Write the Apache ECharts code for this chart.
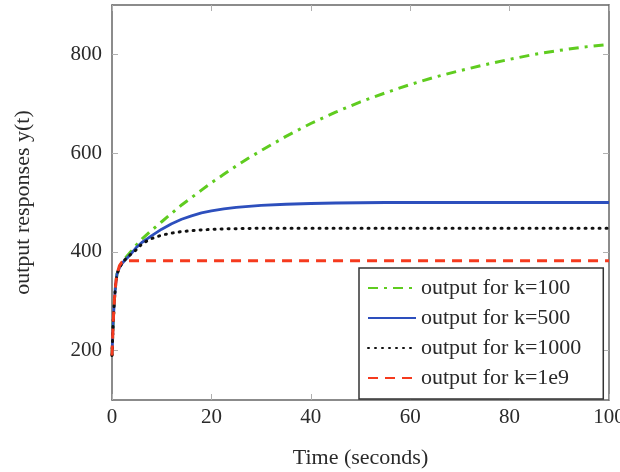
<!DOCTYPE html>
<html><head><meta charset="utf-8">
<script src="https://cdn.jsdelivr.net/npm/echarts@6/dist/echarts.min.js"></script>
<style>html,body{margin:0;padding:0;background:#fff}#c{width:620px;height:472px}</style>
</head><body><div id="c"></div>
<script>
const time  = [0,0.25,0.5,0.75,1,1.5,2,2.5,3,4,5,6,7,8,10,12,14,16,18,20,22.5,25,27.5,30,35,40,45,50,55,60,65,70,75,80,85,90,95,100];
const k100  = [190,260,305,335,355,370,378,385,391,403,415,426,435,444,461,478,495,510,525,540,557,574,590,605,634,660,683,704,722,739,754,767,779,790,800,808,815,820];
const k500  = [190,260,305,335,355,368,376,382,387,398,410,419,426,433,446,457,466,473,479,483,487,490,492,494,496.5,498,499,499.5,500,500,500,500,500,500,500,500,500,500];
const k1000 = [190,260,305,335,355,368,377,383,388,397,405,416,422,427,434,438,441,443,444.5,445.5,446.5,447,447.5,448,448,448,448,448,448,448,448,448,448,448,448,448,448,448];
const k1e9  = [190,260,305,335,355,372,379,381,382,382,382,382,382,382,382,382,382,382,382,382,382,382,382,382,382,382,382,382,382,382,382,382,382,382,382,382,382,382];
const xTicks = [0,20,40,60,80,100];
const yTicks = [200,400,600,800];
const names = ['output for k=100','output for k=500','output for k=1000','output for k=1e9'];

const pair = v => time.map((t,i)=>[t,v[i]]);
const font = 'Liberation Serif';
const axisLineStyle = {color:'#666', width:1.5};
const tickStyle = {color:'#b0b0b0', width:1};
const chart = echarts.init(document.getElementById('c'));
chart.setOption({
  animation:false,
  grid:{left:112,right:11,top:5,bottom:72, containLabel:false, outerBoundsMode:'none'},
  legend:{
    orient:'vertical', left:359, top:268,
    padding:[9,22,10,8], itemGap:8, itemWidth:48, itemHeight:22, itemTextGap:7,
    borderColor:'#333', borderWidth:1.5, backgroundColor:'#fff',
    itemStyle:{opacity:0},
    textStyle:{fontFamily:font, fontSize:22, color:'#2a2a2a'},
    data:names
  },
  xAxis:[{
    type:'value', min:0, max:100,
    name:'Time (seconds)', nameLocation:'middle', nameGap:47,
    nameTextStyle:{fontFamily:font, fontSize:22, color:'#2a2a2a'},
    axisLine:{show:true, onZero:false, lineStyle:axisLineStyle},
    axisTick:{show:true, inside:true, length:6, customValues:xTicks, lineStyle:tickStyle},
    axisLabel:{customValues:xTicks, fontFamily:font, fontSize:21, color:'#2a2a2a', margin:7},
    splitLine:{show:false}
  },{
    type:'value', min:0, max:100, position:'top',
    axisLine:{show:true, onZero:false, lineStyle:axisLineStyle},
    axisTick:{show:true, inside:true, length:6, customValues:xTicks, lineStyle:tickStyle},
    axisLabel:{show:false}, splitLine:{show:false}
  }],
  yAxis:[{
    type:'value', min:100, max:900,
    name:'output responses y(t)', nameLocation:'middle', nameGap:78,
    nameTextStyle:{fontFamily:font, fontSize:22, color:'#2a2a2a'},
    axisLine:{show:true, onZero:false, lineStyle:axisLineStyle},
    axisTick:{show:true, inside:true, length:6, customValues:yTicks, lineStyle:tickStyle},
    axisLabel:{customValues:yTicks, fontFamily:font, fontSize:21, color:'#2a2a2a', margin:10},
    splitLine:{show:false}
  },{
    type:'value', min:100, max:900, position:'right',
    axisLine:{show:true, onZero:false, lineStyle:axisLineStyle},
    axisTick:{show:true, inside:true, length:6, customValues:yTicks, lineStyle:tickStyle},
    axisLabel:{show:false}, splitLine:{show:false}
  }],
  series:[
    {name:names[0], type:'line', data:pair(k100), symbol:'none', z:2,
     itemStyle:{color:'#5fcc1f'}, lineStyle:{color:'#5fcc1f', width:3, type:[10,6,3,6]}},
    {name:names[1], type:'line', data:pair(k500), symbol:'none', z:3,
     itemStyle:{color:'#2d4fbd'}, lineStyle:{color:'#2d4fbd', width:2.8}},
    {name:names[2], type:'line', data:pair(k1000), symbol:'none', z:4,
     itemStyle:{color:'#111'}, lineStyle:{color:'#111', width:3, type:[1,6], cap:'round'}},
    {name:names[3], type:'line', data:pair(k1e9), symbol:'none', z:5,
     itemStyle:{color:'#f53a1e'}, lineStyle:{color:'#f53a1e', width:3, type:[10,7]}}
  ]
});
</script></body></html>
